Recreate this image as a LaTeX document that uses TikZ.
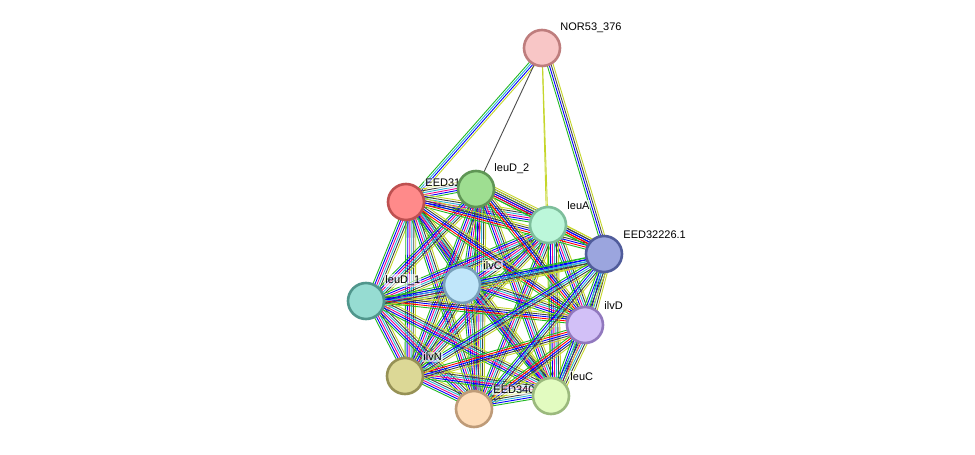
\documentclass[tikz,border=0pt]{standalone}
\usepackage{fontspec}
\setmainfont{Liberation Sans}
\usetikzlibrary{calc}

\definecolor{ygreen}{HTML}{C5D62B}
\definecolor{sgreen}{HTML}{22B822}
\definecolor{scyan}{HTML}{2BB5D8}

% strands of one edge: colour list, spaced across the line
\newcommand{\strands}[3]{%
  \foreach \c [count=\i] in {#3} {
    \pgfmathsetmacro{\off}{(\i-1)*2}
    \draw[\c] ($(#1)!\off pt!90:(#2)$) -- ($(#2)!\off pt!-90:(#1)$);
  }}

\begin{document}
\begin{tikzpicture}[x=1pt, y=-1pt,
    every path/.style={line width=0.9pt},
    prot/.style={draw, circle, line width=2.6pt, minimum size=36pt, inner sep=0pt},
    lbl/.style={font=\fontsize{11}{13}\selectfont, anchor=south west, inner sep=1pt,
      fill=white, fill opacity=0.6, text opacity=1}]
  \useasboundingbox (0,0) rectangle (975,455);
  % positions
  \coordinate (nor) at (542,48);
  \coordinate (e31) at (406,202);
  \coordinate (ld2) at (476,189);
  \coordinate (lea) at (548,225);
  \coordinate (e32) at (604,254);
  \coordinate (ivc) at (462,285);
  \coordinate (ld1) at (366,301);
  \coordinate (ivd) at (585,325);
  \coordinate (ivn) at (405,376);
  \coordinate (e34) at (474,409);
  \coordinate (lec) at (551,396);
  % edges to NOR53_376
  \strands{nor}{e31}{sgreen,scyan,blue,ygreen}
  \strands{nor}{ld2}{black!70}
  \strands{nor}{lea}{ygreen}
  \strands{nor}{e32}{sgreen,blue,black!70,ygreen}
  \strands{nor}{lec}{ygreen}
  % dense cluster
  \foreach \a/\b in {e31/ld2,e31/lea,e31/ivc,e31/ld1,e31/ivn,e31/e34,e31/lec,
      ld2/lea,ld2/ivc,ld2/ld1,ld2/ivn,ld2/e34,ld2/lec,
      lea/ivc,lea/ld1,lea/ivd,lea/ivn,lea/e34,lea/lec,
      ivc/ld1,ivc/ivd,ivc/ivn,ivc/e34,ivc/lec,
      ld1/ivn,ld1/e34,ld1/lec,ivd/lec,ivn/e34,ivn/lec}
    {\strands{\a}{\b}{sgreen,blue,magenta,scyan,black!75,ygreen}}
  \foreach \a/\b in {e31/e32,e31/ivd,ld2/e32,ld2/ivd,lea/e32,ld1/ivd,ivd/ivn,ivd/e34}
    {\strands{\a}{\b}{sgreen,red,blue,black!75,ygreen}}
  \foreach \a/\b in {e32/ivc,e32/ld1,e32/ivd,e32/ivn,e32/e34,e32/lec,e34/lec}
    {\strands{\a}{\b}{sgreen,blue,scyan,black!75,ygreen}}
  % labels and nodes
  \node[lbl] at (559,34) {NOR53\_376};
  \node[prot, fill={rgb,255:red,248;green,198;blue,198}, draw={rgb,255:red,190;green,125;blue,125}] (NOR) at (nor) {};
  \node[lbl] at (424,188) {EED31};
  \node[prot, fill={rgb,255:red,255;green,138;blue,138}, draw={rgb,255:red,190;green,80;blue,80}] (E31) at (e31) {};
  \node[lbl] at (493,175) {leuD\_2};
  \node[prot, fill={rgb,255:red,158;green,222;blue,145}, draw={rgb,255:red,95;green,150;blue,85}] (LD2) at (ld2) {};
  \node[lbl] at (566,211) {leuA};
  \node[prot, fill={rgb,255:red,188;green,247;blue,218}, draw={rgb,255:red,125;green,190;blue,155}] (LEA) at (lea) {};
  \node[lbl] at (622,240) {EED32226.1};
  \node[prot, fill={rgb,255:red,155;green,165;blue,222}, draw={rgb,255:red,80;green,92;blue,155}] (E32) at (e32) {};
  \node[lbl] at (482,271) {ilvC};
  \node[lbl] at (384,287) {leuD\_1};
  \node[prot, fill={rgb,255:red,150;green,220;blue,210}, draw={rgb,255:red,80;green,150;blue,140}] (LD1) at (ld1) {};
  \node[prot, fill={rgb,255:red,192;green,230;blue,250}, draw={rgb,255:red,120;green,160;blue,185}] (IVC) at (ivc) {};
  \node[lbl] at (603,311) {ilvD};
  \node[prot, fill={rgb,255:red,210;green,192;blue,247}, draw={rgb,255:red,145;green,120;blue,190}] (IVD) at (ivd) {};
  \node[lbl] at (422,362) {ilvN};
  \node[prot, fill={rgb,255:red,220;green,216;blue,150}, draw={rgb,255:red,150;green,145;blue,85}] (IVN) at (ivn) {};
  \node[lbl] at (492,395) {EED340};
  \node[lbl] at (569,382) {leuC};
  \node[prot, fill={rgb,255:red,253;green,220;blue,185}, draw={rgb,255:red,190;green,155;blue,120}] (E34) at (e34) {};
  \node[prot, fill={rgb,255:red,226;green,251;blue,192}, draw={rgb,255:red,155;green,185;blue,125}] (LEC) at (lec) {};
\end{tikzpicture}
\end{document}
